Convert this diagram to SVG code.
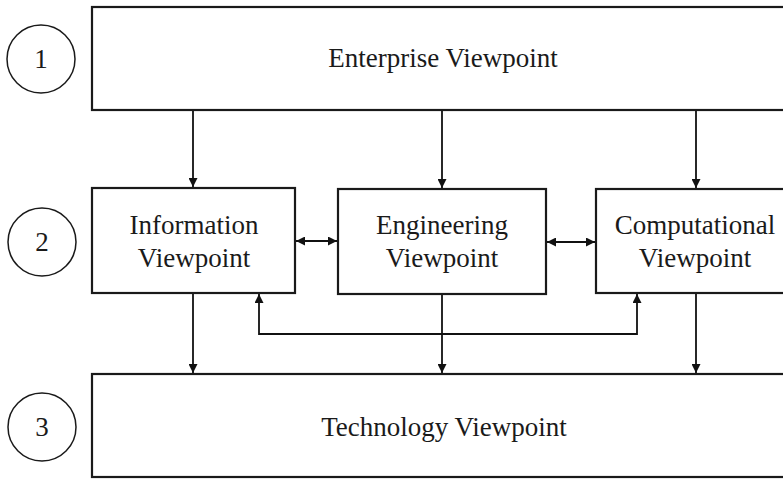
<svg xmlns="http://www.w3.org/2000/svg" width="783" height="479" viewBox="0 0 783 479">
  <defs>
    <style>
      .box { fill: #fff; stroke: #1a1a1a; stroke-width: 2.2; }
      .circ { fill: #fff; stroke: #1a1a1a; stroke-width: 1.5; }
      .lbl { font-family: "Liberation Serif", "Times New Roman", serif; font-size: 27px; fill: #1a1a1a; text-anchor: middle; }
      .con { fill: none; stroke: #111; stroke-width: 1.8; }
    </style>
    <marker id="ah" viewBox="0 0 10 10" refX="10" refY="5" markerWidth="9" markerHeight="9" markerUnits="userSpaceOnUse" orient="auto-start-reverse">
      <path d="M0,0 L10,5 L0,10 z" fill="#111"/>
    </marker>
  </defs>
  <rect width="783" height="479" fill="#fff"/>

  <g id="level1">
    <circle class="circ" cx="41" cy="59" r="34"/>
    <text class="lbl" x="41" y="68">1</text>
  </g>
  <g id="level2">
    <circle class="circ" cx="42" cy="242" r="34"/>
    <text class="lbl" x="42" y="251">2</text>
  </g>
  <g id="level3">
    <circle class="circ" cx="42" cy="427" r="34"/>
    <text class="lbl" x="42" y="436">3</text>
  </g>

  <g id="enterprise">
    <rect class="box" x="92" y="7" width="700" height="103"/>
    <text class="lbl" x="443" y="67">Enterprise Viewpoint</text>
  </g>
  <g id="information">
    <rect class="box" x="92" y="188" width="203" height="105"/>
    <text class="lbl" x="194" y="234">Information</text>
    <text class="lbl" x="194" y="267">Viewpoint</text>
  </g>
  <g id="engineering">
    <rect class="box" x="338" y="189" width="208" height="105"/>
    <text class="lbl" x="442" y="234">Engineering</text>
    <text class="lbl" x="442" y="267">Viewpoint</text>
  </g>
  <g id="computational">
    <rect class="box" x="596" y="189" width="200" height="104"/>
    <text class="lbl" x="695" y="234">Computational</text>
    <text class="lbl" x="695" y="267">Viewpoint</text>
  </g>
  <g id="technology">
    <rect class="box" x="92" y="374" width="700" height="103"/>
    <text class="lbl" x="444" y="436">Technology Viewpoint</text>
  </g>

  <g id="connectors">
    <line class="con" x1="193" y1="111" x2="193" y2="187" marker-end="url(#ah)"/>
    <line class="con" x1="442" y1="111" x2="442" y2="188" marker-end="url(#ah)"/>
    <line class="con" x1="696" y1="111" x2="696" y2="188" marker-end="url(#ah)"/>
    <line class="con" x1="296" y1="241" x2="337" y2="241" marker-start="url(#ah)" marker-end="url(#ah)"/>
    <line class="con" x1="547" y1="242" x2="595" y2="242" marker-start="url(#ah)" marker-end="url(#ah)"/>
    <path class="con" d="M259,294 L259,334 L637,334 L637,294" marker-start="url(#ah)" marker-end="url(#ah)"/>
    <line class="con" x1="193" y1="294" x2="193" y2="373" marker-end="url(#ah)"/>
    <line class="con" x1="442" y1="295" x2="442" y2="373" marker-end="url(#ah)"/>
    <line class="con" x1="696" y1="294" x2="696" y2="373" marker-end="url(#ah)"/>
  </g>
</svg>
